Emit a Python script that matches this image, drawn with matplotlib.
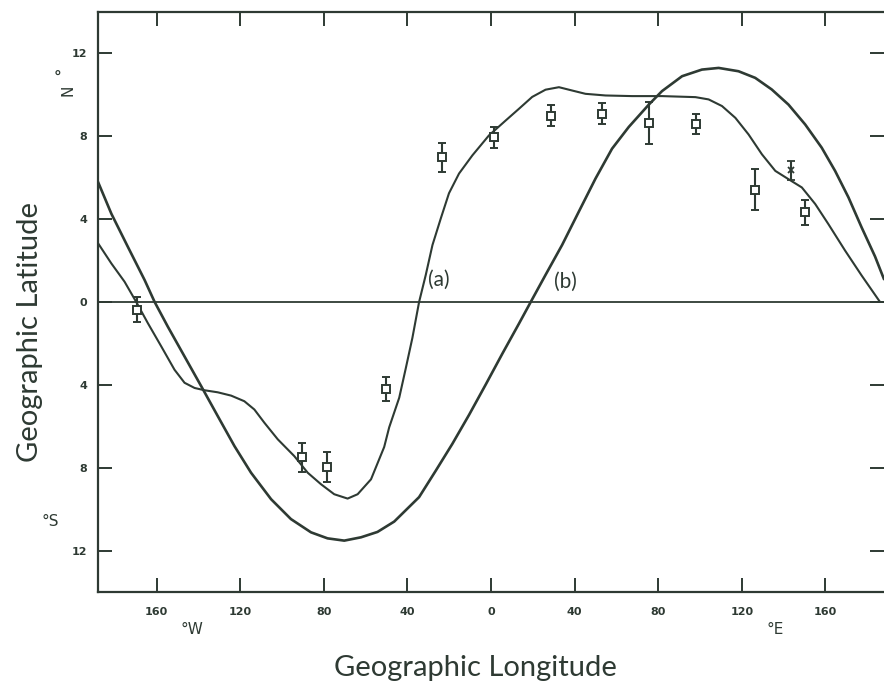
import matplotlib
matplotlib.use("Agg")
import matplotlib.pyplot as plt

# ---------------- data ----------------
curve_a_lon = [-188, -181.6, -175.3, -169.7, -164.1, -157.7, -151.4, -146.6, -141.8,
               -137.1, -130.7, -124.3, -118, -113.2, -108.4, -102, -94.1, -87.7,
               -81.3, -75, -68.6, -63.8, -57.4, -51.1, -48.7, -43.9, -40.7, -37.6,
               -34.4, -31.2, -28, -24, -20.1, -15.3, -8.9, -1, 7, 13.4, 19.7, 26.1,
               32.5, 38.8, 45.2, 54.8, 67.5, 81.8, 97.8, 104.1, 110.5, 116.9, 123.2,
               129.6, 136, 142.3, 148.7, 155.1, 161.4, 169.4, 177.3, 186.1]
curve_a_lat = [2.84, 1.86, 0.98, 0.0, -1.03, -2.15, -3.27, -3.9, -4.15,
               -4.26, -4.36, -4.52, -4.79, -5.19, -5.83, -6.63, -7.44, -8.24,
               -8.8, -9.28, -9.49, -9.28, -8.56, -7.0, -6.05, -4.62, -3.17, -1.73,
               0.0, 1.31, 2.75, 4.04, 5.25, 6.2, 7.08, 8.04, 8.76, 9.33, 9.9, 10.25,
               10.37, 10.21, 10.05, 9.97, 9.94, 9.94, 9.89, 9.78, 9.46, 8.89, 8.09,
               7.13, 6.33, 5.93, 5.53, 4.73, 3.76, 2.48, 1.28, 0.0]

curve_b_lon = [-188, -181.6, -173.7, -165.7, -160.9, -154.6, -146.6, -138.6, -130.7,
               -122.7, -114.8, -105.2, -95.7, -86.1, -78.2, -70.2, -62.2, -54.3,
               -46.3, -34.4, -26.4, -18.5, -10.5, -2.5, 5.4, 13.4, 19, 26.1, 34, 42,
               50, 57.9, 65.9, 75.5, 81.8, 91.4, 100.9, 108.9, 118.4, 126.4, 134.3,
               142.3, 150.3, 158.2, 164.6, 171, 177.3, 183.7, 188]
curve_b_lat = [5.8, 4.26, 2.66, 1.06, 0.0, -1.19, -2.63, -4.07, -5.51,
               -6.96, -8.24, -9.52, -10.48, -11.12, -11.41, -11.52, -11.36, -11.1,
               -10.6, -9.42, -8.14, -6.85, -5.45, -3.98, -2.5, -1.04, 0.0, 1.31, 2.75, 4.36,
               5.96, 7.4, 8.45, 9.53, 10.18, 10.9, 11.22, 11.3, 11.14, 10.82, 10.26,
               9.53, 8.57, 7.45, 6.33, 5.05, 3.6, 2.2, 1.1]

obs_lon = [-169.5, -90.3, -78.3, -50, -23.4, 1.4, 28.6, 53, 75.5, 97.9, 126.5, 143.7, 150.4]
obs_lat = [-0.38, -7.5, -7.95, -4.2, 7.0, 7.95, 9.0, 9.1, 8.65, 8.6, 5.43, 6.35, 4.33]
obs_err = [0.6, 0.7, 0.72, 0.58, 0.7, 0.5, 0.5, 0.5, 1.0, 0.48, 1.0, 0.48, 0.6]

y_ticks = [12, 8, 4, 0, -4, -8, -12]
y_tick_labels = ["12", "8", "4", "0", "4", "8", "12"]
x_ticks = [-160, -120, -80, -40, 0, 40, 80, 120, 160]
x_tick_labels = ["160", "120", "80", "40", "0", "40", "80", "120", "160"]

# ---------------- drawing ----------------
ink = "#2e3a33"
fig = plt.figure(figsize=(8.84, 6.88), dpi=100)
ax = fig.add_axes([98 / 884, (688 - 592) / 688, (884 - 98) / 884, (592 - 12) / 688])

ax.plot(curve_a_lon, curve_a_lat, color=ink, lw=1.5, solid_joinstyle="round",
        solid_capstyle="round")
ax.plot(curve_b_lon, curve_b_lat, color=ink, lw=1.9, solid_joinstyle="round",
        solid_capstyle="round")
ax.axhline(0, color=ink, lw=1.3)

for i, (x, y, e) in enumerate(zip(obs_lon, obs_lat, obs_err)):
    if i == 11:
        ax.errorbar(x, y, yerr=e, fmt="x", ms=4, mec=ink, mew=1.3,
                    ecolor=ink, elinewidth=1.5, capsize=3, capthick=1.5, zorder=3)
    else:
        ax.errorbar(x, y, yerr=e, fmt="s", ms=6, mfc="white", mec=ink, mew=1.4,
                    ecolor=ink, elinewidth=1.5, capsize=3, capthick=1.5, zorder=3)

ax.set_xlim(-188, 188)
ax.set_ylim(-14, 14)
ax.set_xticks(x_ticks)
ax.set_xticklabels(x_tick_labels)
ax.set_yticks(y_ticks)
ax.set_yticklabels(y_tick_labels)
ax.tick_params(direction="in", length=10, width=1.4, color=ink,
               top=True, right=True, labelcolor=ink)
ax.tick_params(axis="x", pad=11)
ax.tick_params(axis="y", pad=8)
for lab in ax.get_xticklabels() + ax.get_yticklabels():
    lab.set_fontfamily("DejaVu Sans")
    lab.set_fontweight("bold")
    lab.set_fontsize(8)

for side in ["left", "bottom", "top"]:
    ax.spines[side].set_color(ink)
    ax.spines[side].set_linewidth(1.6)
ax.spines["right"].set_visible(False)

lab_font = dict(family="Lato", color=ink)
fig.text(30 / 884, 1 - 332 / 688, "Geographic Latitude", rotation=90,
         ha="center", va="center", fontsize=21, **lab_font)
fig.text(475 / 884, 1 - 668 / 688, "Geographic Longitude",
         ha="center", va="center", fontsize=21, **lab_font)

small = dict(family="DejaVu Sans", color=ink, fontsize=11)
fig.text(57 / 884, 1 - 78 / 688, "°", ha="center", va="center",
         fontweight="bold", **small)
fig.text(68 / 884, 1 - 90 / 688, "N", rotation=90, ha="center", va="center", **small)
fig.text(50 / 884, 1 - 522 / 688, "°S", ha="center", va="center", **small)
fig.text(192 / 884, 1 - 630 / 688, "°W", ha="center", va="center", **small)
fig.text(775 / 884, 1 - 630 / 688, "°E", ha="center", va="center", **small)

ax.text(-25, 1.05, "(a)", ha="center", va="center", fontsize=15, color=ink, family="Lato")
ax.text(35.5, 0.95, "(b)", ha="center", va="center", fontsize=15, color=ink, family="Lato")

fig.savefig("out.png", dpi=100, facecolor="white")
